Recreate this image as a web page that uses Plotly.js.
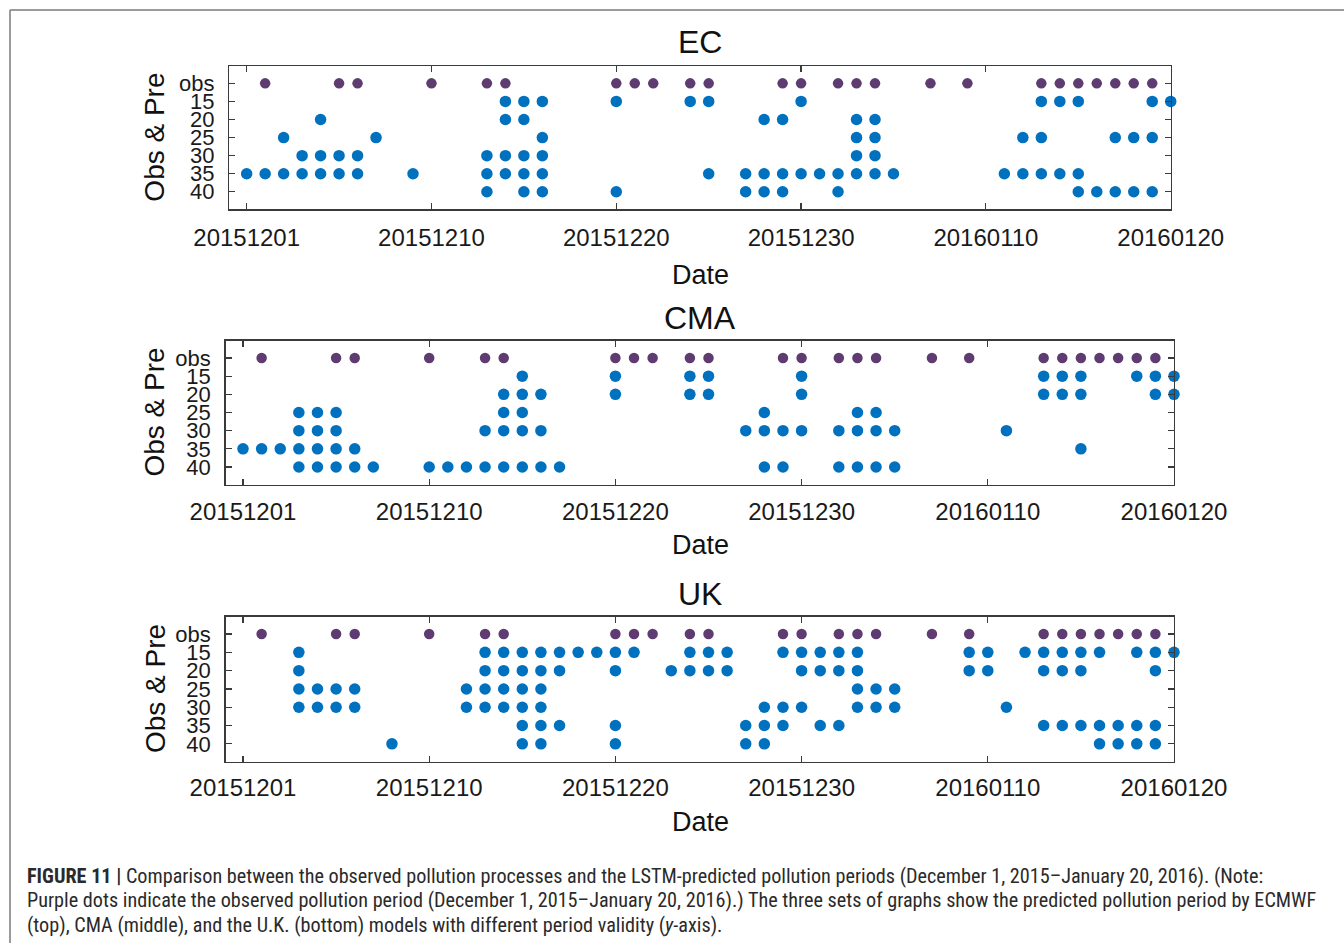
<!DOCTYPE html>
<html>
<head>
<meta charset="utf-8">
<script src="https://cdn.plot.ly/plotly-3.0.1.min.js"></script>
<style>
  html, body { margin: 0; padding: 0; background: #ffffff; }
  #chart { width: 1344px; height: 943px; }
</style>
</head>
<body>
<div id="chart"></div>
<script>
// ---------------- DATA ----------------
// Day index along the x axis: 0 = first day (20151201) ... 50 = last day (20160120)
const dateTickIndex = [0, 10, 20, 30, 40, 50];
const dateTickLabels = ['20151201', '20151210', '20151220', '20151230', '20160110', '20160120'];
const rowLabels = ['obs', '15', '20', '25', '30', '35', '40'];
const panelNames = ['EC', 'CMA', 'UK'];

// Observed pollution days (same in every panel)
const obsDays = [1, 5, 6, 10, 13, 14, 20, 21, 22, 24, 25, 29, 30, 32, 33, 34, 37, 39, 43, 44, 45, 46, 47, 48, 49];

// EC predicted days per validity row
const ec15 = [14, 15, 16, 20, 24, 25, 30, 43, 44, 45, 49, 50];
const ec20 = [4, 14, 15, 28, 29, 33, 34];
const ec25 = [2, 7, 16, 33, 34, 42, 43, 47, 48, 49];
const ec30 = [3, 4, 5, 6, 13, 14, 15, 16, 33, 34];
const ec35 = [0, 1, 2, 3, 4, 5, 6, 9, 13, 14, 15, 16, 25, 27, 28, 29, 30, 31, 32, 33, 34, 35, 41, 42, 43, 44, 45];
const ec40 = [13, 15, 16, 20, 27, 28, 29, 32, 45, 46, 47, 48, 49];

// CMA predicted days per validity row
const cma15 = [15, 20, 24, 25, 30, 43, 44, 45, 48, 49, 50];
const cma20 = [14, 15, 16, 20, 24, 25, 30, 43, 44, 45, 49, 50];
const cma25 = [3, 4, 5, 14, 15, 28, 33, 34];
const cma30 = [3, 4, 5, 13, 14, 15, 16, 27, 28, 29, 30, 32, 33, 34, 35, 41];
const cma35 = [0, 1, 2, 3, 4, 5, 6, 45];
const cma40 = [3, 4, 5, 6, 7, 10, 11, 12, 13, 14, 15, 16, 17, 28, 29, 32, 33, 34, 35];

// UK predicted days per validity row
const uk15 = [3, 13, 14, 15, 16, 17, 18, 19, 20, 21, 24, 25, 26, 29, 30, 31, 32, 33, 39, 40, 42, 43, 44, 45, 46, 48, 49, 50];
const uk20 = [3, 13, 14, 15, 16, 17, 20, 23, 24, 25, 26, 30, 31, 32, 33, 39, 40, 43, 44, 45, 49];
const uk25 = [3, 4, 5, 6, 12, 13, 14, 15, 16, 33, 34, 35];
const uk30 = [3, 4, 5, 6, 12, 13, 14, 15, 16, 28, 29, 30, 33, 34, 35, 41];
const uk35 = [15, 16, 17, 20, 27, 28, 29, 31, 32, 43, 44, 45, 46, 47, 48, 49];
const uk40 = [8, 15, 16, 20, 27, 28, 46, 47, 48, 49];

const panelRows = [
  [ec15, ec20, ec25, ec30, ec35, ec40],
  [cma15, cma20, cma25, cma30, cma35, cma40],
  [uk15, uk20, uk25, uk30, uk35, uk40]
];

// ---------------- STYLE / LAYOUT ----------------
const W = 1344, H = 943;
const FONT = 'Liberation Sans, Arial, Helvetica, sans-serif';
const PURPLE = '#5e3b70';
const BLUE = '#0071bf';
const AXC = '#3a3a3a';

// plot boxes in pixels [left, right, top, bottom]
const boxes = [
  [229.3, 1170.7, 66, 209.3],
  [225.5, 1174, 340.6, 484.6],
  [225.5, 1174, 616.5, 761.6]
];
const xLabelStandoff = [7, 5, 4];
const titleY = [42, 318, 594];
const dateY = [275, 545, 822];

const px = v => v / W;
const py = v => 1 - v / H;

const traces = [];
const layout = {
  width: W, height: H,
  margin: {l: 0, r: 0, t: 0, b: 0},
  paper_bgcolor: '#ffffff',
  plot_bgcolor: '#ffffff',
  showlegend: false,
  font: {family: FONT, color: '#111111'},
  annotations: [],
  shapes: []
};

panelNames.forEach((name, p) => {
  const sfx = p === 0 ? '' : String(p + 1);
  const xa = 'x' + sfx, ya = 'y' + sfx;
  // observed
  traces.push({
    type: 'scatter', mode: 'markers', xaxis: xa, yaxis: ya,
    x: obsDays, y: obsDays.map(() => rowLabels[0]),
    marker: {color: PURPLE, size: 10.5},
    cliponaxis: false, hoverinfo: 'x+y', name: name + ' obs'
  });
  // predicted
  const xs = [], ys = [];
  panelRows[p].forEach((days, r) => {
    days.forEach(d => { xs.push(d); ys.push(rowLabels[r + 1]); });
  });
  traces.push({
    type: 'scatter', mode: 'markers', xaxis: xa, yaxis: ya,
    x: xs, y: ys,
    marker: {color: BLUE, size: 11.5},
    cliponaxis: false, hoverinfo: 'x+y', name: name + ' predicted'
  });

  const b = boxes[p];
  layout['xaxis' + sfx] = {
    domain: [px(b[0]), px(b[1])],
    anchor: ya,
    range: [-0.94, 50],
    tickmode: 'array', tickvals: dateTickIndex, ticktext: dateTickLabels,
    ticks: 'inside', ticklen: 6, tickcolor: AXC, tickwidth: 1.2,
    showline: true, linecolor: AXC, linewidth: 1.3, mirror: 'ticks',
    showgrid: false, zeroline: false,
    tickfont: {family: FONT, size: 24, color: '#1a1a1a'},
    ticklabelstandoff: xLabelStandoff[p],
    fixedrange: true
  };
  layout['yaxis' + sfx] = {
    domain: [py(b[3]), py(b[2])],
    anchor: xa,
    type: 'category', categoryorder: 'array', categoryarray: rowLabels,
    range: [6.97, -0.96],
    tickmode: 'array', tickvals: rowLabels, ticktext: rowLabels,
    ticks: 'inside', ticklen: 6, tickcolor: AXC, tickwidth: 1.2,
    showline: true, linecolor: AXC, linewidth: 1.3, mirror: 'ticks',
    showgrid: false, zeroline: false,
    tickfont: {family: FONT, size: 22, color: '#1a1a1a'},
    ticklabelstandoff: 9,
    fixedrange: true
  };
  // panel title
  layout.annotations.push({
    xref: 'paper', yref: 'paper', x: px(700), y: py(titleY[p]),
    xanchor: 'center', yanchor: 'middle', showarrow: false,
    text: name, font: {family: FONT, size: 32, color: '#111111'}
  });
  // x title
  layout.annotations.push({
    xref: 'paper', yref: 'paper', x: px(700), y: py(dateY[p]),
    xanchor: 'center', yanchor: 'middle', showarrow: false,
    text: 'Date', font: {family: FONT, size: 27, color: '#111111'}
  });
  // y title
  layout.annotations.push({
    xref: 'paper', yref: 'paper', x: px(155), y: py((b[2] + b[3]) / 2),
    xanchor: 'center', yanchor: 'middle', showarrow: false, textangle: -90,
    text: 'Obs &amp; Pre', font: {family: FONT, size: 28, color: '#111111'}
  });
});

// caption
const CAPFONT = 'Liberation Sans Narrow, Roboto Condensed, DejaVu Sans Condensed, Liberation Sans, Arial, sans-serif';
const captionLines = [
  '<b>FIGURE 11 |</b> Comparison between the observed pollution processes and the LSTM-predicted pollution periods (December 1, 2015–January 20, 2016). (Note:',
  'Purple dots indicate the observed pollution period (December 1, 2015–January 20, 2016).) The three sets of graphs show the predicted pollution period by ECMWF',
  '(top), CMA (middle), and the U.K. (bottom) models with different period validity (<i>y</i>-axis).'
];
const capY = [876, 900, 925];
captionLines.forEach((t, i) => {
  layout.annotations.push({
    xref: 'paper', yref: 'paper', x: px(25), y: py(capY[i]),
    xanchor: 'left', yanchor: 'middle', showarrow: false, align: 'left',
    text: t, font: {family: CAPFONT, size: 20.2, color: '#2a2a2a'}
  });
});

// frame lines of the figure box
layout.shapes.push({type: 'line', xref: 'paper', yref: 'paper', x0: px(10), x1: 1, y0: py(10), y1: py(10), line: {color: '#7a7a7a', width: 1.5}});
layout.shapes.push({type: 'line', xref: 'paper', yref: 'paper', x0: px(10), x1: px(10), y0: py(10), y1: 0, line: {color: '#7a7a7a', width: 1.5}});

Plotly.newPlot('chart', traces, layout, {displayModeBar: false, staticPlot: true});
</script>
</body>
</html>
